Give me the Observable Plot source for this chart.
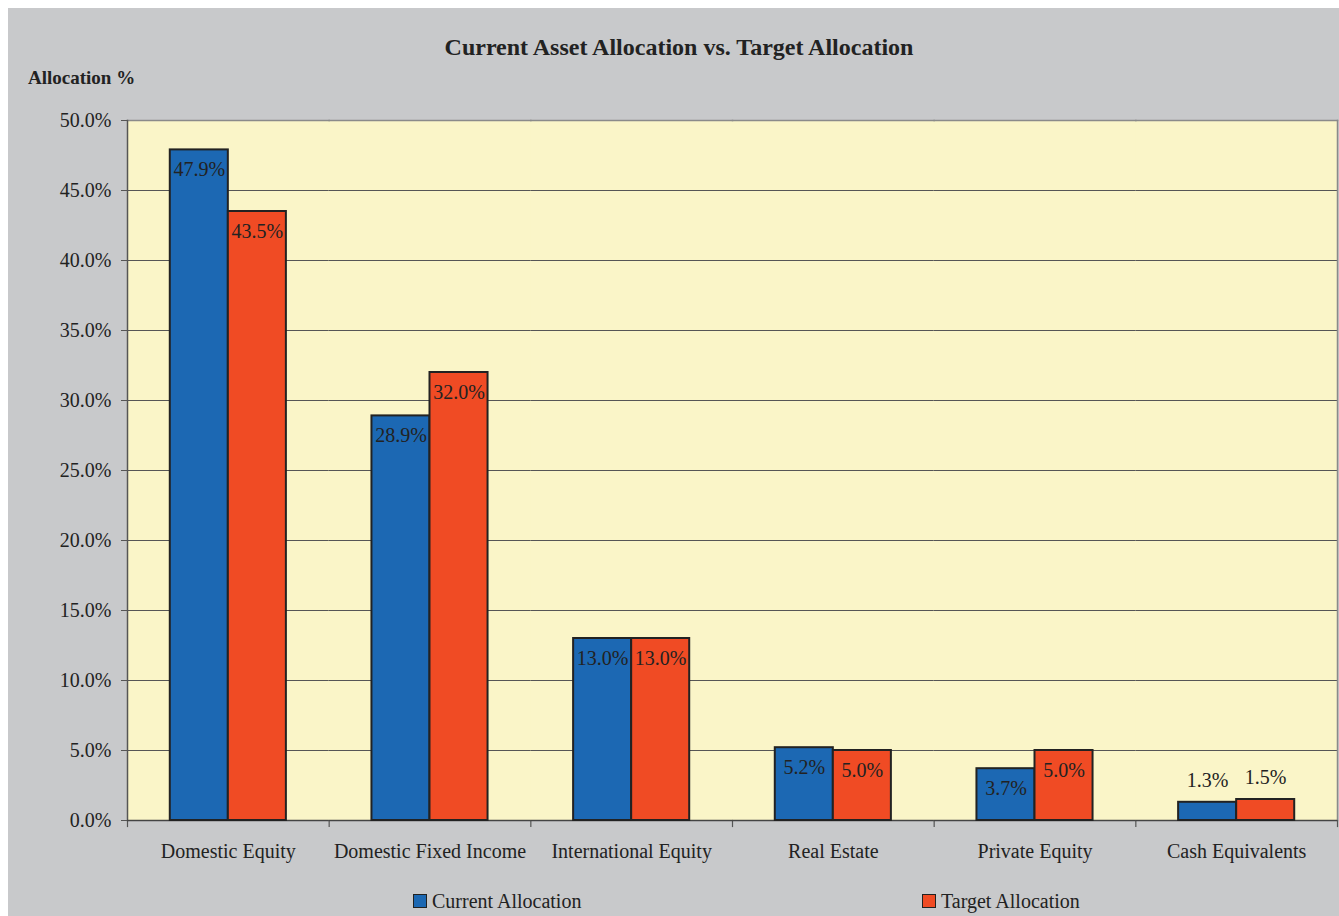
<!DOCTYPE html>
<html><head><meta charset="utf-8">
<script src="https://cdn.jsdelivr.net/npm/d3@7"></script>
<script src="https://cdn.jsdelivr.net/npm/@observablehq/plot@0.6"></script>
<style>
html,body{margin:0;padding:0;background:#fff;}
#wrap{position:absolute;left:8px;top:8px;width:1331px;height:908px;background:#c8c9cb;overflow:hidden;font-family:"Liberation Serif","Times New Roman",serif;color:#222;}
#title{position:absolute;left:671px;top:27px;transform:translateX(-50%);font-size:24px;font-weight:bold;white-space:nowrap;line-height:24px;}
#ylabel{position:absolute;left:20px;top:60px;font-size:19px;font-weight:bold;line-height:19px;white-space:nowrap;}
#chart{position:absolute;left:0;top:82px;}
.leg{position:absolute;top:883px;font-size:20px;line-height:20px;display:flex;align-items:center;white-space:nowrap;}
.sw{width:12px;height:12px;border:1.5px solid #222;margin-right:5px;}
</style></head>
<body>
<div id="wrap">
  <div id="title">Current Asset Allocation vs. Target Allocation</div>
  <div id="ylabel">Allocation %</div>
  <div id="chart"></div>
  <div class="leg" style="left:405px"><span class="sw" style="background:#1c68b3"></span>Current Allocation</div>
  <div class="leg" style="left:914px"><span class="sw" style="background:#f04b24"></span>Target Allocation</div>
</div>
<script>
const categories = ["Domestic Equity","Domestic Fixed Income","International Equity","Real Estate","Private Equity","Cash Equivalents"];
const series = ["Current Allocation","Target Allocation"];
const currentValues = [47.9, 28.9, 13.0, 5.2, 3.7, 1.3];
const targetValues = [43.5, 32.0, 13.0, 5.0, 5.0, 1.5];
const yTicks = [0, 5, 10, 15, 20, 25, 30, 35, 40, 45, 50];
const colors = ["#1c68b3", "#f04b24"];

const rows = categories.flatMap((c, i) => [
  {category: c, series: series[0], value: currentValues[i]},
  {category: c, series: series[1], value: targetValues[i]}
]);

const H = 700;
const fmt = d => d.toFixed(1) + "%";
const font = '"Liberation Serif","Times New Roman",serif';

const chart = Plot.plot({
  width: 1331, height: 780,
  marginTop: 30, marginBottom: 50, marginLeft: 119, marginRight: 2,
  style: {background: "transparent", fontFamily: font, fontSize: "20px", color: "#222", overflow: "visible"},
  fx: {domain: categories, padding: 0, round: false, label: null},
  x: {domain: series, paddingInner: 0, paddingOuter: 0.737, round: false, axis: null},
  y: {domain: [0, 50], label: null},
  color: {domain: series, range: colors},
  marks: [
    Plot.frame({fill: "#faf5c8", stroke: "none", insetLeft: -0.6, insetRight: -0.6}),
    Plot.gridY(yTicks, {stroke: "#555", strokeOpacity: 1, strokeWidth: 1}),
    Plot.frame({anchor: "top", stroke: "#8a8a8a", strokeWidth: 1.5}),
    Plot.frame({anchor: "right", facetAnchor: "right", stroke: "#8a8a8a", strokeWidth: 1.5}),
    Plot.frame({anchor: "left", facetAnchor: "left", stroke: "#555", strokeWidth: 1.5}),
    Plot.frame({anchor: "left", insetTop: H, insetBottom: -6, stroke: "#555", strokeWidth: 1.2}),
    Plot.frame({anchor: "right", facetAnchor: "right", insetTop: H, insetBottom: -6, stroke: "#555", strokeWidth: 1.2}),
    Plot.ruleY([0], {stroke: "#444", strokeWidth: 1.5}),
    Plot.barY(rows, {fx: "category", x: "series", y: "value", fill: "series", stroke: "#222", strokeWidth: 2}),
    Plot.text(rows.filter(d => d.value >= 3), {fx: "category", x: "series", y: "value", text: d => fmt(d.value), dy: 20, fill: "#222", fontSize: 20}),
    Plot.text(rows.filter(d => d.value < 3), {fx: "category", x: "series", y: "value", text: d => fmt(d.value), dy: -22, fill: "#222", fontSize: 20}),
    Plot.axisY(yTicks, {tickSize: 6, tickPadding: 10, tickFormat: fmt, label: null, stroke: "#555", fill: "#222", fontSize: 20}),
    Plot.axisFx({anchor: "bottom", tickSize: 0, tickPadding: 23, label: null, fill: "#222", fontSize: 20})
  ]
});
document.getElementById("chart").appendChild(chart);
</script>
</body></html>
